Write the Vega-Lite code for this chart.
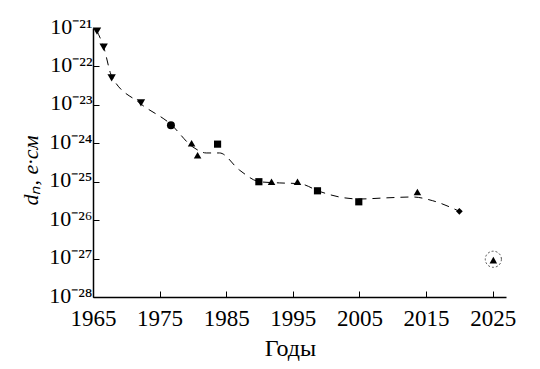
{
  "$schema": "https://vega.github.io/schema/vega-lite/v6.json",
  "width": 413,
  "height": 269,
  "autosize": "none",
  "padding": {"left": 93, "top": 28, "right": 34, "bottom": 72},
  "background": "white",
  "config": {"view": {"stroke": null}, "font": "Liberation Serif"},
  "datasets": {
    "pts": [
      {"year": 1965.6, "d": 8.3e-22, "type": "tdown"},
      {"year": 1966.6, "d": 3.2e-22, "type": "tdown"},
      {"year": 1967.8, "d": 5.0e-23, "type": "tdown"},
      {"year": 1972.2, "d": 1.12e-23, "type": "tdown"},
      {"year": 1976.7, "d": 2.95e-24, "type": "circle"},
      {"year": 1979.8, "d": 1.0e-24, "type": "tup"},
      {"year": 1980.7, "d": 4.9e-25, "type": "tup"},
      {"year": 1983.7, "d": 9.5e-25, "type": "square"},
      {"year": 1989.9, "d": 1.0e-25, "type": "square"},
      {"year": 1991.8, "d": 1.0e-25, "type": "tup"},
      {"year": 1995.7, "d": 1.0e-25, "type": "tup"},
      {"year": 1998.7, "d": 5.8e-26, "type": "square"},
      {"year": 2004.9, "d": 3.0e-26, "type": "square"},
      {"year": 2013.7, "d": 5.4e-26, "type": "tup"},
      {"year": 2020.0, "d": 1.7e-26, "type": "diamond"},
      {"year": 2025.1, "d": 9.1e-28, "type": "tup"}
    ],
    "curve": [
      {"year": 1965.6, "d": 8.3e-22},
      {"year": 1966.6, "d": 3.2e-22},
      {"year": 1967.8, "d": 5.6e-23},
      {"year": 1972.0, "d": 1.12e-23},
      {"year": 1976.7, "d": 3.1e-24},
      {"year": 1980.0, "d": 8.0e-25},
      {"year": 1982.0, "d": 5.6e-25},
      {"year": 1984.0, "d": 5.6e-25},
      {"year": 1987.0, "d": 2.0e-25},
      {"year": 1990.0, "d": 1.0e-25},
      {"year": 1993.0, "d": 9.3e-26},
      {"year": 1996.0, "d": 8.9e-26},
      {"year": 1999.0, "d": 5.6e-26},
      {"year": 2002.0, "d": 4.0e-26},
      {"year": 2005.0, "d": 3.55e-26},
      {"year": 2009.0, "d": 3.8e-26},
      {"year": 2013.0, "d": 4.0e-26},
      {"year": 2016.0, "d": 3.2e-26},
      {"year": 2020.0, "d": 1.7e-26}
    ],
    "ring": [
      {"year": 2025.1, "d": 9.6e-28}
    ]
  },
  "encoding": {
    "x": {
      "field": "year", "type": "quantitative",
      "scale": {"domain": [1965, 2027], "nice": false, "zero": false},
      "axis": {
        "title": "Годы", "titleFont": "Liberation Serif", "titleFontSize": 24, "titleFontWeight": "normal", "titleColor": "black", "titlePadding": 6, "titleX": 197, "titleAlign": "center",
        "values": [1965, 1975, 1985, 1995, 2005, 2015, 2025],
        "labelFont": "Liberation Serif", "labelFontSize": 23, "labelColor": "black", "labelPadding": 16,
        "format": "d", "grid": false, "domainColor": "black", "domainWidth": 1.5,
        "tickColor": "black", "tickSize": -6, "labelFlush": false
      }
    },
    "y": {
      "field": "d", "type": "quantitative",
      "scale": {"type": "log", "domain": [1e-28, 1e-21], "nice": false},
      "axis": {
        "title": "dₙ, e·см", "titleFont": "Liberation Serif", "titleFontSize": 22, "titleFontStyle": "italic", "titleFontWeight": "normal", "titleColor": "black", "titlePadding": 6, "titleY": 142,
        "values": [1e-28, 1e-27, 1e-26, 1e-25, 1e-24, 1e-23, 1e-22, 1e-21],
        "labelExpr": "'10' + ['⁻²⁸','⁻²⁷','⁻²⁶','⁻²⁵','⁻²⁴','⁻²³','⁻²²','⁻²¹'][round(log(datum.value)/LN10)+28]",
        "labelFont": "Liberation Serif", "labelFontSize": 22, "labelColor": "black", "labelPadding": 7, "labelOffset": -2,
        "grid": false, "domainColor": "black", "domainWidth": 1.5,
        "tickColor": "black", "tickSize": -6, "labelFlush": false
      }
    }
  },
  "layer": [
    {
      "data": {"name": "curve"},
      "mark": {"type": "line", "interpolate": "monotone", "color": "black", "strokeWidth": 1, "strokeDash": [8, 6]}
    },
    {
      "data": {"name": "ring"},
      "mark": {"type": "point", "shape": "circle", "filled": false, "size": 260, "color": "black", "strokeWidth": 1, "strokeDash": [2, 2]}
    },
    {
      "data": {"name": "pts"},
      "mark": {"type": "point", "filled": true, "opacity": 1, "color": "black"},
      "encoding": {
        "shape": {
          "field": "type", "type": "nominal", "legend": null,
          "scale": {"domain": ["tdown", "circle", "tup", "square", "diamond"], "range": ["triangle-down", "circle", "triangle-up", "square", "diamond"]}
        },
        "size": {
          "field": "type", "type": "nominal", "legend": null,
          "scale": {"domain": ["tdown", "circle", "tup", "square", "diamond"], "range": [70, 45, 70, 55, 35]}
        }
      }
    }
  ]
}
